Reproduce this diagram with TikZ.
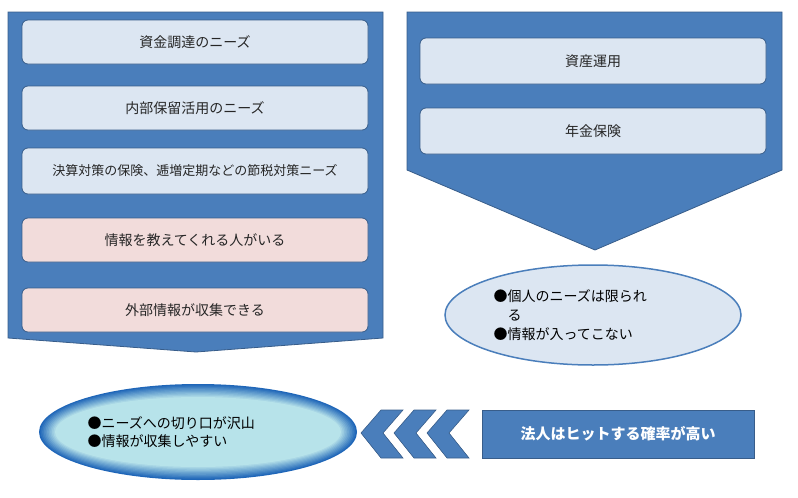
\documentclass[tikz,border=0pt]{standalone}
\usepackage{fontspec}
\setmainfont{Noto Sans CJK JP}
\usetikzlibrary{shapes.geometric}
\definecolor{panelblue}{HTML}{4A7EBB}
\definecolor{paneldark}{HTML}{385D8A}
\definecolor{boxblue}{HTML}{DCE6F2}
\definecolor{boxpink}{HTML}{F2DCDB}
\definecolor{cyanlight}{HTML}{B7E3EA}
\definecolor{ringblue}{HTML}{1F66B8}
\begin{document}
\begin{tikzpicture}[x=1pt,y=-1pt,
  panel/.style={fill=panelblue,draw=paneldark,line width=0.8pt},
  item/.style={rounded corners=6pt,draw=paneldark,line width=0.8pt,minimum width=346pt,minimum height=44pt,font=\fontsize{14}{16}\selectfont,text=black!85},
  itemB/.style={item,fill=boxblue},
  itemP/.style={item,fill=boxpink},
  chev/.style={fill=panelblue,draw=paneldark,line width=0.6pt}]
\useasboundingbox (0,0) rectangle (798,498);

% left panel
\draw[panel] (8,12) -- (383,12) -- (383,338) -- (196,352) -- (8,338) -- cycle;
\node[itemB] (needA) at (195,42) {資金調達のニーズ};
\node[itemB] (needB) at (195,108) {内部保留活用のニーズ};
\node[itemB,minimum height=46pt,font=\fontsize{13}{15}\selectfont] (needC) at (195,171) {決算対策の保険、逓増定期などの節税対策ニーズ};
\node[itemP] (infoA) at (195,240) {情報を教えてくれる人がいる};
\node[itemP] (infoB) at (195,310) {外部情報が収集できる};

% right panel
\draw[panel] (407,12) -- (782,12) -- (782,170) -- (595,250) -- (407,170) -- cycle;
\node[itemB,minimum height=46pt] (asset) at (593,61) {資産運用};
\node[itemB,minimum height=46pt] (pension) at (593,131) {年金保険};
\node[ellipse,fill=boxblue,draw=panelblue,line width=1.5pt,minimum width=296pt,minimum height=100pt] (indiv) at (593,315) {};
\node[anchor=west,align=left,font=\fontsize{14}{19}\selectfont] (indivT) at (490,315) {●個人のニーズは限られ\\\phantom{●}る\\●情報が入ってこない};

% bottom
\foreach \i in {0,...,10}
  \node[ellipse,fill=ringblue!\the\numexpr 100-\i*10\relax!cyanlight,minimum width=318pt-\i*3.2pt,minimum height=96pt-\i*2.6pt,inner sep=0pt] (corp\i) at (198,432) {};
\node[anchor=west,align=left,font=\fontsize{14}{18}\selectfont] (corpT) at (84,432) {●ニーズへの切り口が沢山\\●情報が収集しやすい};
\foreach \cx in {361,394,427}
  \draw[chev] (\cx,433) -- (\cx+20,410) -- (\cx+42,410) -- (\cx+22,433) -- (\cx+42,458) -- (\cx+20,458) -- cycle;
\node[fill=panelblue,draw=paneldark,line width=0.8pt,minimum width=272pt,minimum height=48pt,text=white,font=\bfseries\fontsize{15}{17}\selectfont] (hit) at (618,434) {法人はヒットする確率が高い};
\end{tikzpicture}
\end{document}
